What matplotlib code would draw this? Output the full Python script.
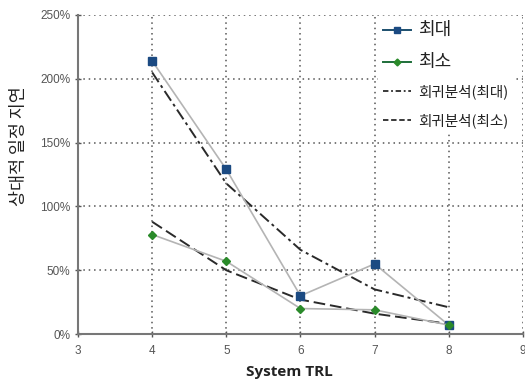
import matplotlib
matplotlib.use("Agg")
import matplotlib.pyplot as plt
from matplotlib.lines import Line2D

plt.rcParams['font.family'] = ['Noto Sans CJK KR', 'DejaVu Sans']

trl = [4, 5, 6, 7, 8]
delay_max = [214, 129, 30, 55, 7]
delay_min = [78, 57, 20, 19, 7]
reg_max = [205, 118, 66, 35, 21]
reg_min = [88, 50, 27, 16, 8]

xticks = [3, 4, 5, 6, 7, 8, 9]
yticks = [0, 50, 100, 150, 200, 250]
ytick_labels = ['0%', '50%', '100%', '150%', '200%', '250%']

legend_labels = ['최대', '최소', '회귀분석(최대)', '회귀분석(최소)']

fig = plt.figure(figsize=(5.25, 3.84), dpi=100)
ax = fig.add_axes([0.1486, 0.130, 0.8474, 0.831])

navy = '#1b4a82'
green = '#2a8a2a'
grayline = '#b4b4b4'
dark = '#2a2a2a'

ax.plot(trl, reg_max, color=dark, lw=1.4, dashes=(6, 2, 1.5, 2), zorder=3)
ax.plot(trl, reg_min, color=dark, lw=1.4, dashes=(6, 2.5), zorder=3)
ax.plot(trl, delay_max, color=grayline, lw=1.2, marker='s', ms=5.5,
        mfc=navy, mec=navy, zorder=4)
ax.plot(trl, delay_min, color=grayline, lw=1.2, marker='D', ms=4.5,
        mfc=green, mec=green, zorder=4)

ax.set_xlim(3, 9)
ax.set_ylim(0, 250)
ax.set_xticks(xticks)
ax.set_yticks(yticks)
ax.set_yticklabels(ytick_labels)
ax.tick_params(axis='both', labelsize=8.5, colors='#555555', length=4, width=1,
               direction='inout')
for lab in ax.get_xticklabels() + ax.get_yticklabels():
    lab.set_family(['Liberation Sans', 'DejaVu Sans'])
ax.tick_params(axis='x', pad=6)
ax.grid(True, color='#555555', linestyle=(0, (1.0, 2.5)), lw=1.1)
ax.set_axisbelow(True)
for s in ['top', 'right']:
    ax.spines[s].set_visible(False)
for s in ['left', 'bottom']:
    ax.spines[s].set_color('#777777')
    ax.spines[s].set_linewidth(1.5)

ax.set_xlabel('System TRL', fontsize=11, fontweight='bold', color='#222222',
              family=['Open Sans', 'DejaVu Sans'])
ax.xaxis.set_label_coords(0.476, -0.098)
ax.set_ylabel('상대적 일정 지연', fontsize=12.5, color='#222222')
ax.yaxis.set_label_coords(-0.113, 0.59)

handles = [
    Line2D([], [], color='#1c4f6e', lw=1.4, marker='s', ms=4, mfc=navy, mec=navy),
    Line2D([], [], color='#1e6e3a', lw=1.4, marker='D', ms=3.5, mfc=green, mec=green),
    Line2D([], [], color=dark, lw=1.3, dashes=(3, 1.5, 1, 1.5)),
    Line2D([], [], color=dark, lw=1.3, dashes=(3, 1.5)),
]
leg = ax.legend(handles, legend_labels, loc='upper left', fontsize=10.5,
                bbox_to_anchor=(0.675, 0.997), frameon=True, fancybox=False,
                edgecolor='white', facecolor='white', framealpha=1,
                handlelength=1.9, handletextpad=0.45, labelspacing=0.95,
                borderpad=0.35, borderaxespad=0.0)
for i, t in enumerate(leg.get_texts()):
    t.set_fontsize(13 if i < 2 else 10.5)
    t.set_color('#222222')
leg.set_zorder(5)

fig.savefig('out.png', dpi=100)
